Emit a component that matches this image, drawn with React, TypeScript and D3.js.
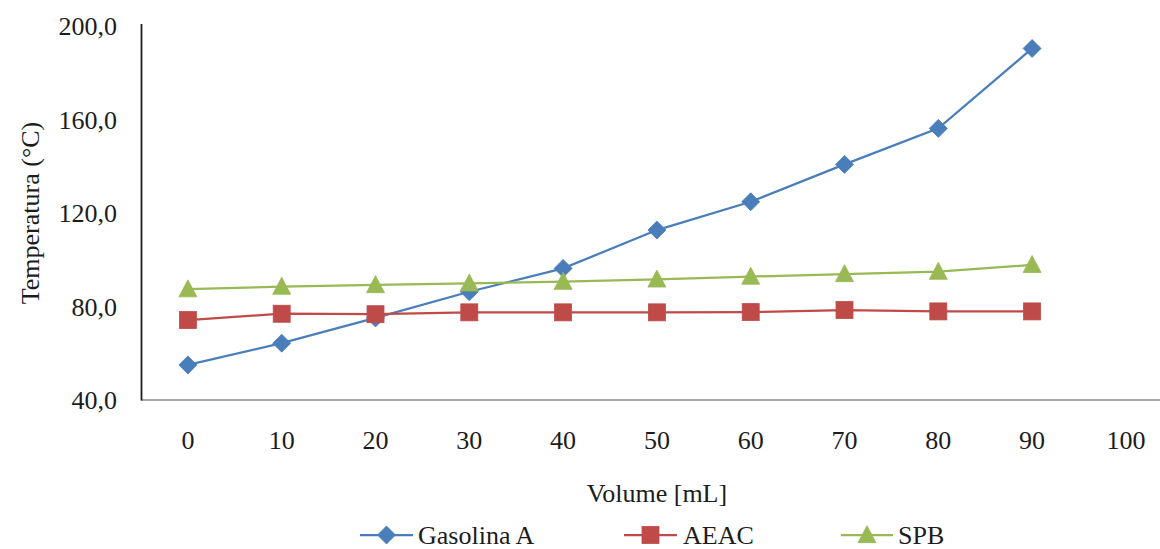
import React from "react";
import * as d3 from "d3";

// Distillation temperatures (°C) by recovered volume (mL)
const volumes = ["0", "10", "20", "30", "40", "50", "60", "70", "80", "90", "100"];
const gasolinaA = [55.0, 64.3, 75.1, 86.3, 96.3, 112.7, 124.8, 140.8, 156.2, 190.4];
const aeac = [74.2, 76.9, 76.7, 77.5, 77.5, 77.5, 77.6, 78.5, 77.9, 77.9];
const spb = [87.4, 88.5, 89.2, 89.9, 90.6, 91.6, 92.8, 93.9, 94.9, 97.8];
const yTicks = [40, 80, 120, 160, 200];

const seriesNames = ["Gasolina A", "AEAC", "SPB"];
const seriesColors = ["#4a7ebb", "#be4b48", "#98b954"];
const seriesShapes = ["diamond", "square", "triangle"];

const W = 1160;
const H = 549;
const FONT = '"Liberation Serif", "Times New Roman", Times, serif';
const TEXT = "#1c1c1c";
const LEGEND_Y = 535;

const x = d3.scaleBand<string>().domain(volumes).range([141, 141 + 11 * 93.8]);
const y = d3.scaleLinear().domain([40, 200]).range([400, 26]);
const xc = (v: string) => (x(v) as number) + x.bandwidth() / 2;

function Marker({ shape, cx, cy, color }: { shape: string; cx: number; cy: number; color: string }) {
  if (shape === "diamond") {
    const r = 9;
    return (
      <path
        d={`M${cx},${cy - r}L${cx + r},${cy}L${cx},${cy + r}L${cx - r},${cy}Z`}
        fill={color}
        stroke={color}
        strokeWidth={0.8}
      />
    );
  }
  if (shape === "square") {
    const s = 17;
    return <rect x={cx - s / 2} y={cy - s / 2} width={s} height={s} fill={color} stroke={color} strokeWidth={0.8} />;
  }
  const w = 18;
  const h = 17;
  return (
    <path
      d={`M${cx},${cy - h * 0.55}L${cx + w / 2},${cy + h * 0.45}L${cx - w / 2},${cy + h * 0.45}Z`}
      fill={color}
      stroke={color}
      strokeWidth={0.8}
    />
  );
}

export default function App() {
  const data = [gasolinaA, aeac, spb];
  const line = d3
    .line<number>()
    .x((_, i) => xc(volumes[i]))
    .y((d) => y(d));

  const legend = [
    { x0: 360, x1: 413, tx: 418 },
    { x0: 624, x1: 677, tx: 683 },
    { x0: 841, x1: 893, tx: 898 },
  ];

  const textStyle = { fontFamily: FONT, fontSize: 26, fill: TEXT } as React.CSSProperties;

  return (
    <svg
      width={W}
      height={H}
      style={{ position: "absolute", left: 0, top: 0, background: "#fff" }}
    >
      <rect width={W} height={H} fill="#fff" />

      {/* axes */}
      <line x1={141} x2={W} y1={400} y2={400} stroke="#8a8a8a" strokeWidth={1.6} />
      <line x1={141.5} x2={141.5} y1={24} y2={400.5} stroke="#1e1e1e" strokeWidth={1.8} />

      {/* y tick labels */}
      {yTicks.map((t) => (
        <text key={t} x={117} y={y(t)} dy="0.35em" textAnchor="end" style={textStyle}>
          {d3.format(".1f")(t).replace(".", ",")}
        </text>
      ))}

      {/* x tick labels */}
      {volumes.map((v) => (
        <text key={v} x={xc(v)} y={440} dy="0.35em" textAnchor="middle" style={textStyle}>
          {v}
        </text>
      ))}

      {/* axis titles */}
      <text x={657} y={493} dy="0.35em" textAnchor="middle" style={textStyle}>
        Volume [mL]
      </text>
      <text transform={`translate(30,213) rotate(-90)`} dy="0.35em" textAnchor="middle" style={textStyle}>
        Temperatura (°C)
      </text>

      {/* series */}
      {data.map((vals, si) => (
        <g key={seriesNames[si]}>
          <path d={line(vals) as string} fill="none" stroke={seriesColors[si]} strokeWidth={2.25} />
          {vals.map((v, i) => (
            <Marker key={i} shape={seriesShapes[si]} cx={xc(volumes[i])} cy={y(v)} color={seriesColors[si]} />
          ))}
        </g>
      ))}

      {/* legend */}
      {legend.map((l, si) => (
        <g key={seriesNames[si]}>
          <line x1={l.x0} x2={l.x1} y1={LEGEND_Y} y2={LEGEND_Y} stroke={seriesColors[si]} strokeWidth={2.25} />
          <Marker shape={seriesShapes[si]} cx={(l.x0 + l.x1) / 2} cy={LEGEND_Y} color={seriesColors[si]} />
          <text x={l.tx} y={LEGEND_Y} dy="0.35em" style={textStyle}>
            {seriesNames[si]}
          </text>
        </g>
      ))}
    </svg>
  );
}
